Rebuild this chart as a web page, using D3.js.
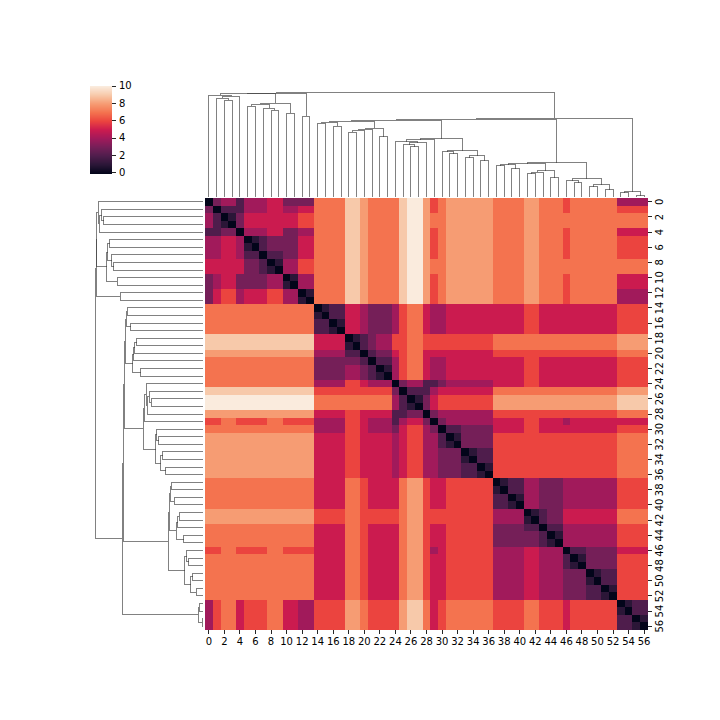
<!DOCTYPE html>
<html><head><meta charset="utf-8">
<script src="https://d3js.org/d3.v7.min.js"></script>
<style>html,body{margin:0;padding:0;background:#fff}svg{display:block}text{font-family:"DejaVu Sans",sans-serif;font-size:10px;fill:#000}</style>
</head><body><svg id="c" width="720" height="720"></svg>
<script>
// Pairwise distance values, row by row (cells 0..56)
const distances = [
[0,3,4,4,2,4,4,4,5,5,3,3,3,3,7,7,7,7,9,9,8,7,7,7,7,9,10,10,8,6,7,8,8,8,8,8,8,7,7,7,7,8,8,7,7,7,6,7,7,7,7,7,7,4,4,4,4],
[3,0,2,2,2,4,4,4,5,5,4,4,5,5,7,7,7,7,9,9,8,7,7,7,7,9,10,10,8,6,7,8,8,8,8,8,8,7,7,7,7,8,8,7,7,7,6,7,7,7,7,7,7,6,6,6,6],
[4,2,0,1,3,5,5,5,5,5,5,5,6,6,7,7,7,7,9,9,8,7,7,7,7,9,10,10,8,7,7,8,8,8,8,8,8,7,7,7,7,8,8,7,7,7,7,7,7,7,7,7,7,7,7,7,7],
[4,2,1,0,3,5,5,5,5,5,5,5,6,6,7,7,7,7,9,9,8,7,7,7,7,9,10,10,8,7,7,8,8,8,8,8,8,7,7,7,7,8,8,7,7,7,7,7,7,7,7,7,7,7,7,7,7],
[2,2,3,3,0,4,4,4,5,5,3,3,4,4,7,7,7,7,9,9,8,7,7,7,7,9,10,10,8,6,7,8,8,8,8,8,8,7,7,7,7,8,8,7,7,7,6,7,7,7,7,7,7,5,5,5,5],
[4,4,5,5,4,0,1,2,3,3,3,3,5,5,7,7,7,7,9,9,8,7,7,7,7,9,10,10,8,6,7,8,8,8,8,8,8,7,7,7,7,8,8,7,7,7,6,7,7,7,7,7,7,6,6,6,6],
[4,4,5,5,4,1,0,2,3,3,3,3,5,5,7,7,7,7,9,9,8,7,7,7,7,9,10,10,8,6,7,8,8,8,8,8,8,7,7,7,7,8,8,7,7,7,6,7,7,7,7,7,7,6,6,6,6],
[4,4,5,5,4,2,2,0,2,2,3,3,5,5,7,7,7,7,9,9,8,7,7,7,7,9,10,10,8,6,7,8,8,8,8,8,8,7,7,7,7,8,8,7,7,7,6,7,7,7,7,7,7,6,6,6,6],
[5,5,5,5,5,3,3,2,0,1,4,4,6,6,7,7,7,7,9,9,8,7,7,7,7,9,10,10,8,7,7,8,8,8,8,8,8,7,7,7,7,8,8,7,7,7,7,7,7,7,7,7,7,7,7,7,7],
[5,5,5,5,5,3,3,2,1,0,4,4,6,6,7,7,7,7,9,9,8,7,7,7,7,9,10,10,8,7,7,8,8,8,8,8,8,7,7,7,7,8,8,7,7,7,7,7,7,7,7,7,7,7,7,7,7],
[3,4,5,5,3,3,3,3,4,4,0,1,4,4,7,7,7,7,9,9,8,7,7,7,7,9,10,10,8,6,7,8,8,8,8,8,8,7,7,7,7,8,8,7,7,7,6,7,7,7,7,7,7,5,5,5,5],
[3,4,5,5,3,3,3,3,4,4,1,0,4,4,7,7,7,7,9,9,8,7,7,7,7,9,10,10,8,6,7,8,8,8,8,8,8,7,7,7,7,8,8,7,7,7,6,7,7,7,7,7,7,5,5,5,5],
[3,5,6,6,4,5,5,5,6,6,4,4,0,1,7,7,7,7,9,9,8,7,7,7,7,9,10,10,8,6,7,8,8,8,8,8,8,7,7,7,7,8,8,7,7,7,6,7,7,7,7,7,7,4,4,4,4],
[3,5,6,6,4,5,5,5,6,6,4,4,1,0,7,7,7,7,9,9,8,7,7,7,7,9,10,10,8,6,7,8,8,8,8,8,8,7,7,7,7,8,8,7,7,7,6,7,7,7,7,7,7,4,4,4,4],
[7,7,7,7,7,7,7,7,7,7,7,7,7,7,0,1,2,2,5,5,4,3,3,3,4,6,7,7,5,4,4,5,5,5,5,5,5,5,5,5,5,6,6,5,5,5,5,5,5,5,5,5,5,6,6,6,6],
[7,7,7,7,7,7,7,7,7,7,7,7,7,7,1,0,2,2,5,5,4,3,3,3,4,6,7,7,5,4,4,5,5,5,5,5,5,5,5,5,5,6,6,5,5,5,5,5,5,5,5,5,5,6,6,6,6],
[7,7,7,7,7,7,7,7,7,7,7,7,7,7,2,2,0,1,5,5,4,3,3,3,4,6,7,7,5,4,4,5,5,5,5,5,5,5,5,5,5,6,6,5,5,5,5,5,5,5,5,5,5,6,6,6,6],
[7,7,7,7,7,7,7,7,7,7,7,7,7,7,2,2,1,0,5,5,4,3,3,3,4,6,7,7,5,4,4,5,5,5,5,5,5,5,5,5,5,6,6,5,5,5,5,5,5,5,5,5,5,6,6,6,6],
[9,9,9,9,9,9,9,9,9,9,9,9,9,9,5,5,5,5,0,1,2,3,4,4,6,6,7,7,6,6,6,6,6,6,6,6,6,7,7,7,7,7,7,7,7,7,7,7,7,7,7,7,7,8,8,8,8],
[9,9,9,9,9,9,9,9,9,9,9,9,9,9,5,5,5,5,1,0,2,3,4,4,6,6,7,7,6,6,6,6,6,6,6,6,6,7,7,7,7,7,7,7,7,7,7,7,7,7,7,7,7,8,8,8,8],
[8,8,8,8,8,8,8,8,8,8,8,8,8,8,4,4,4,4,2,2,0,2,3,3,5,6,7,7,5,5,5,5,5,5,5,5,5,6,6,6,6,6,6,6,6,6,6,6,6,6,6,6,6,7,7,7,7],
[7,7,7,7,7,7,7,7,7,7,7,7,7,7,3,3,3,3,3,3,2,0,2,2,4,6,7,7,5,4,4,5,5,5,5,5,5,5,5,5,5,6,6,5,5,5,5,5,5,5,5,5,5,6,6,6,6],
[7,7,7,7,7,7,7,7,7,7,7,7,7,7,3,3,3,3,4,4,3,2,0,1,4,6,7,7,5,4,4,5,5,5,5,5,5,5,5,5,5,6,6,5,5,5,5,5,5,5,5,5,5,6,6,6,6],
[7,7,7,7,7,7,7,7,7,7,7,7,7,7,3,3,3,3,4,4,3,2,1,0,4,6,7,7,5,4,4,5,5,5,5,5,5,5,5,5,5,6,6,5,5,5,5,5,5,5,5,5,5,6,6,6,6],
[7,7,7,7,7,7,7,7,7,7,7,7,7,7,4,4,4,4,6,6,5,4,4,4,0,3,4,4,2,2,3,4,4,4,4,4,4,5,5,5,5,6,6,5,5,5,5,5,5,5,5,5,5,6,6,6,6],
[9,9,9,9,9,9,9,9,9,9,9,9,9,9,6,6,6,6,6,6,6,6,6,6,3,0,2,2,2,4,5,5,5,5,5,5,5,7,7,7,7,7,7,7,7,7,7,7,7,7,7,7,7,8,8,8,8],
[10,10,10,10,10,10,10,10,10,10,10,10,10,10,7,7,7,7,7,7,7,7,7,7,4,2,0,1,3,5,6,6,6,6,6,6,6,8,8,8,8,8,8,8,8,8,8,8,8,8,8,8,8,9,9,9,9],
[10,10,10,10,10,10,10,10,10,10,10,10,10,10,7,7,7,7,7,7,7,7,7,7,4,2,1,0,3,5,6,6,6,6,6,6,6,8,8,8,8,8,8,8,8,8,8,8,8,8,8,8,8,9,9,9,9],
[8,8,8,8,8,8,8,8,8,8,8,8,8,8,5,5,5,5,6,6,5,5,5,5,2,2,3,3,0,3,4,4,4,4,4,4,4,6,6,6,6,6,6,6,6,6,6,6,6,6,6,6,6,7,7,7,7],
[6,6,7,7,6,6,6,6,7,7,6,6,6,6,4,4,4,4,6,6,5,4,4,4,2,4,5,5,3,0,3,4,4,4,4,4,4,5,5,5,5,6,6,5,5,5,4,5,5,5,5,5,5,5,5,5,5],
[7,7,7,7,7,7,7,7,7,7,7,7,7,7,4,4,4,4,6,6,5,4,4,4,3,5,6,6,4,3,0,2,2,3,3,3,3,5,5,5,5,6,6,5,5,5,5,5,5,5,5,5,5,6,6,6,6],
[8,8,8,8,8,8,8,8,8,8,8,8,8,8,5,5,5,5,6,6,5,5,5,5,4,5,6,6,4,4,2,0,1,3,3,3,3,6,6,6,6,6,6,6,6,6,6,6,6,6,6,6,6,7,7,7,7],
[8,8,8,8,8,8,8,8,8,8,8,8,8,8,5,5,5,5,6,6,5,5,5,5,4,5,6,6,4,4,2,1,0,3,3,3,3,6,6,6,6,6,6,6,6,6,6,6,6,6,6,6,6,7,7,7,7],
[8,8,8,8,8,8,8,8,8,8,8,8,8,8,5,5,5,5,6,6,5,5,5,5,4,5,6,6,4,4,3,3,3,0,1,2,2,6,6,6,6,6,6,6,6,6,6,6,6,6,6,6,6,7,7,7,7],
[8,8,8,8,8,8,8,8,8,8,8,8,8,8,5,5,5,5,6,6,5,5,5,5,4,5,6,6,4,4,3,3,3,1,0,2,2,6,6,6,6,6,6,6,6,6,6,6,6,6,6,6,6,7,7,7,7],
[8,8,8,8,8,8,8,8,8,8,8,8,8,8,5,5,5,5,6,6,5,5,5,5,4,5,6,6,4,4,3,3,3,2,2,0,1,6,6,6,6,6,6,6,6,6,6,6,6,6,6,6,6,7,7,7,7],
[8,8,8,8,8,8,8,8,8,8,8,8,8,8,5,5,5,5,6,6,5,5,5,5,4,5,6,6,4,4,3,3,3,2,2,1,0,6,6,6,6,6,6,6,6,6,6,6,6,6,6,6,6,7,7,7,7],
[7,7,7,7,7,7,7,7,7,7,7,7,7,7,5,5,5,5,7,7,6,5,5,5,5,7,8,8,6,5,5,6,6,6,6,6,6,0,1,2,2,4,4,3,3,3,4,4,4,4,4,4,4,6,6,6,6],
[7,7,7,7,7,7,7,7,7,7,7,7,7,7,5,5,5,5,7,7,6,5,5,5,5,7,8,8,6,5,5,6,6,6,6,6,6,1,0,2,2,4,4,3,3,3,4,4,4,4,4,4,4,6,6,6,6],
[7,7,7,7,7,7,7,7,7,7,7,7,7,7,5,5,5,5,7,7,6,5,5,5,5,7,8,8,6,5,5,6,6,6,6,6,6,2,2,0,1,4,4,3,3,3,4,4,4,4,4,4,4,6,6,6,6],
[7,7,7,7,7,7,7,7,7,7,7,7,7,7,5,5,5,5,7,7,6,5,5,5,5,7,8,8,6,5,5,6,6,6,6,6,6,2,2,1,0,4,4,3,3,3,4,4,4,4,4,4,4,6,6,6,6],
[8,8,8,8,8,8,8,8,8,8,8,8,8,8,6,6,6,6,7,7,6,6,6,6,6,7,8,8,6,6,6,6,6,6,6,6,6,4,4,4,4,0,1,2,3,3,5,5,5,5,5,5,5,7,7,7,7],
[8,8,8,8,8,8,8,8,8,8,8,8,8,8,6,6,6,6,7,7,6,6,6,6,6,7,8,8,6,6,6,6,6,6,6,6,6,4,4,4,4,1,0,2,3,3,5,5,5,5,5,5,5,7,7,7,7],
[7,7,7,7,7,7,7,7,7,7,7,7,7,7,5,5,5,5,7,7,6,5,5,5,5,7,8,8,6,5,5,6,6,6,6,6,6,3,3,3,3,2,2,0,2,2,4,4,4,4,4,4,4,6,6,6,6],
[7,7,7,7,7,7,7,7,7,7,7,7,7,7,5,5,5,5,7,7,6,5,5,5,5,7,8,8,6,5,5,6,6,6,6,6,6,3,3,3,3,3,3,2,0,1,4,4,4,4,4,4,4,6,6,6,6],
[7,7,7,7,7,7,7,7,7,7,7,7,7,7,5,5,5,5,7,7,6,5,5,5,5,7,8,8,6,5,5,6,6,6,6,6,6,3,3,3,3,3,3,2,1,0,4,4,4,4,4,4,4,6,6,6,6],
[6,6,7,7,6,6,6,6,7,7,6,6,6,6,5,5,5,5,7,7,6,5,5,5,5,7,8,8,6,4,5,6,6,6,6,6,6,4,4,4,4,5,5,4,4,4,0,2,2,3,3,3,3,5,5,5,5],
[7,7,7,7,7,7,7,7,7,7,7,7,7,7,5,5,5,5,7,7,6,5,5,5,5,7,8,8,6,5,5,6,6,6,6,6,6,4,4,4,4,5,5,4,4,4,2,0,1,3,3,3,3,6,6,6,6],
[7,7,7,7,7,7,7,7,7,7,7,7,7,7,5,5,5,5,7,7,6,5,5,5,5,7,8,8,6,5,5,6,6,6,6,6,6,4,4,4,4,5,5,4,4,4,2,1,0,3,3,3,3,6,6,6,6],
[7,7,7,7,7,7,7,7,7,7,7,7,7,7,5,5,5,5,7,7,6,5,5,5,5,7,8,8,6,5,5,6,6,6,6,6,6,4,4,4,4,5,5,4,4,4,3,3,3,0,1,2,2,6,6,6,6],
[7,7,7,7,7,7,7,7,7,7,7,7,7,7,5,5,5,5,7,7,6,5,5,5,5,7,8,8,6,5,5,6,6,6,6,6,6,4,4,4,4,5,5,4,4,4,3,3,3,1,0,2,2,6,6,6,6],
[7,7,7,7,7,7,7,7,7,7,7,7,7,7,5,5,5,5,7,7,6,5,5,5,5,7,8,8,6,5,5,6,6,6,6,6,6,4,4,4,4,5,5,4,4,4,3,3,3,2,2,0,1,6,6,6,6],
[7,7,7,7,7,7,7,7,7,7,7,7,7,7,5,5,5,5,7,7,6,5,5,5,5,7,8,8,6,5,5,6,6,6,6,6,6,4,4,4,4,5,5,4,4,4,3,3,3,2,2,1,0,6,6,6,6],
[4,6,7,7,5,6,6,6,7,7,5,5,4,4,6,6,6,6,8,8,7,6,6,6,6,8,9,9,7,5,6,7,7,7,7,7,7,6,6,6,6,7,7,6,6,6,5,6,6,6,6,6,6,0,1,2,2],
[4,6,7,7,5,6,6,6,7,7,5,5,4,4,6,6,6,6,8,8,7,6,6,6,6,8,9,9,7,5,6,7,7,7,7,7,7,6,6,6,6,7,7,6,6,6,5,6,6,6,6,6,6,1,0,2,2],
[4,6,7,7,5,6,6,6,7,7,5,5,4,4,6,6,6,6,8,8,7,6,6,6,6,8,9,9,7,5,6,7,7,7,7,7,7,6,6,6,6,7,7,6,6,6,5,6,6,6,6,6,6,2,2,0,1],
[4,6,7,7,5,6,6,6,7,7,5,5,4,4,6,6,6,6,8,8,7,6,6,6,6,8,9,9,7,5,6,7,7,7,7,7,7,6,6,6,6,7,7,6,6,6,5,6,6,6,6,6,6,2,2,1,0]
];
// Linkage: [childA, childB, height]; ids under 57 are leaves, node k has id 57+k
const merges = [
[2,3,95.7],[1,57,97.7],[58,4,99.7],[0,59,100.7],[5,6,89.7],[8,9,85.7],[7,62,87.7],[61,63,91.7],[10,11,82.7],[64,65,92.7],
[60,66,102.3],[12,13,79.7],[67,68,103],[14,15,72.7],[16,17,69.7],[70,71,73.7],[18,19,63.7],[73,20,65.7],[74,21,66.7],[22,23,59.7],
[75,76,67.7],[72,77,74.7],[26,27,49.7],[25,79,51.7],[80,28,53.7],[24,81,54.7],[82,29,56.7],[31,32,42.7],[30,84,44.7],[33,34,38.7],
[35,36,35.7],[86,87,40.7],[85,88,45.7],[83,89,57.7],[78,90,75.7],[37,38,30.7],[39,40,27.7],[92,93,31.7],[41,42,22.7],[95,43,24.3],
[44,45,18.7],[96,97,25.7],[94,98,32.7],[47,48,13.7],[46,100,15.7],[49,50,9.7],[51,52,6.7],[102,103,11.7],[101,104,17.7],[99,105,33.7],
[91,106,76.7],[53,54,3.7],[55,56,0.7],[108,109,4.7],[107,110,77.7],[69,111,103.7]
];
const cbarTicks = [0,2,4,6,8,10];
const rocketStops = [0,1,2,3,4,5,6,7,8,9,10];
const rocketColors = ["#03051a","#2b1637","#4f1d4c","#751f58","#a11a5b","#cb1b4f","#eb443f","#f4734f","#f69c73","#f7c9aa","#faebdd"];
const n = distances.length;
const cells = d3.range(n);
const labelCells = cells.filter(i => i % 2 === 0);

const svg = d3.select("#c");
const color = d3.scaleLinear().domain(rocketStops).range(rocketColors).interpolate(d3.interpolateRgb).clamp(true);
const x = d3.scaleBand().domain(cells).range([205, 648]);
const y = d3.scaleBand().domain(cells).range([198, 630]);

// heatmap
svg.append("g").attr("shape-rendering", "crispEdges")
  .selectAll("g").data(distances).join("g")
  .each(function (row, r) {
    d3.select(this).selectAll("rect").data(row).join("rect")
      .attr("x", (d, c) => x(c)).attr("y", y(r))
      .attr("width", x.bandwidth() + 0.3).attr("height", y.bandwidth() + 0.3)
      .attr("fill", d => color(d));
  });

function styleAxis(g) {
  g.select(".domain").remove();
  g.selectAll(".tick line").attr("stroke", "#262626").attr("stroke-width", 1).attr("shape-rendering", "crispEdges");
  g.selectAll(".tick text").attr("fill", "#000").attr("font-size", 10).attr("font-family", '"DejaVu Sans",sans-serif');
}
svg.append("g").attr("transform", "translate(0,630)")
  .call(d3.axisBottom(x).tickValues(labelCells).tickSize(3.5).tickPadding(4).offset(0))
  .call(styleAxis);
svg.append("g").attr("transform", "translate(648,0)")
  .call(d3.axisRight(y).tickValues(labelCells).tickSize(3.5).tickPadding(3.5).offset(0))
  .call(styleAxis)
  .call(g => g.selectAll(".tick text")
    .attr("transform", "translate(11.5,0) rotate(-90)")
    .attr("x", 0).attr("y", 0).attr("dy", "0.35em").attr("text-anchor", "middle"));

// dendrograms: same linkage, drawn on two orientations
const maxH = d3.max(merges, m => m[2]);
const hTop = d3.scaleLinear().domain([0, maxH]).range([196.5, 92.3]);
const hLeft = d3.scaleLinear().domain([0, maxH]).range([203, 95.3]);

function layout(band) {
  const pos = new Map(cells.map(i => [i, { p: band(i) + band.bandwidth() / 2, h: 0 }]));
  return merges.map((m, k) => {
    const a = pos.get(m[0]), b = pos.get(m[1]);
    pos.set(n + k, { p: (a.p + b.p) / 2, h: m[2] });
    return { a, b, h: m[2] };
  });
}
const lineGen = d3.line();
function drawDendro(nodes, toXY) {
  svg.append("g").attr("fill", "none").attr("stroke", "#333").attr("stroke-opacity", 0.62)
    .attr("stroke-width", 1).attr("shape-rendering", "crispEdges")
    .selectAll("path").data(nodes).join("path")
    .attr("d", d => lineGen([toXY(d.a.p, d.a.h), toXY(d.a.p, d.h), toXY(d.b.p, d.h), toXY(d.b.p, d.b.h)]));
}
drawDendro(layout(x), (p, h) => [p, hTop(h)]);
drawDendro(layout(y), (p, h) => [hLeft(h), p]);

// colour bar
const cb = d3.scaleLinear().domain([0, 10]).range([172.7, 86.2]);
const cbSteps = d3.range(0, 10.0001, 10 / 87);
svg.append("g").attr("shape-rendering", "crispEdges")
  .selectAll("rect").data(cbSteps).join("rect")
  .attr("x", 90).attr("width", 22)
  .attr("y", d => cb(d) - 0.5).attr("height", 1.5)
  .attr("fill", d => color(d));
svg.append("g").attr("transform", "translate(112,0)")
  .call(d3.axisRight(cb).tickValues(cbarTicks).tickSize(3.5).tickPadding(3.5).offset(0))
  .call(styleAxis);
</script></body></html>
